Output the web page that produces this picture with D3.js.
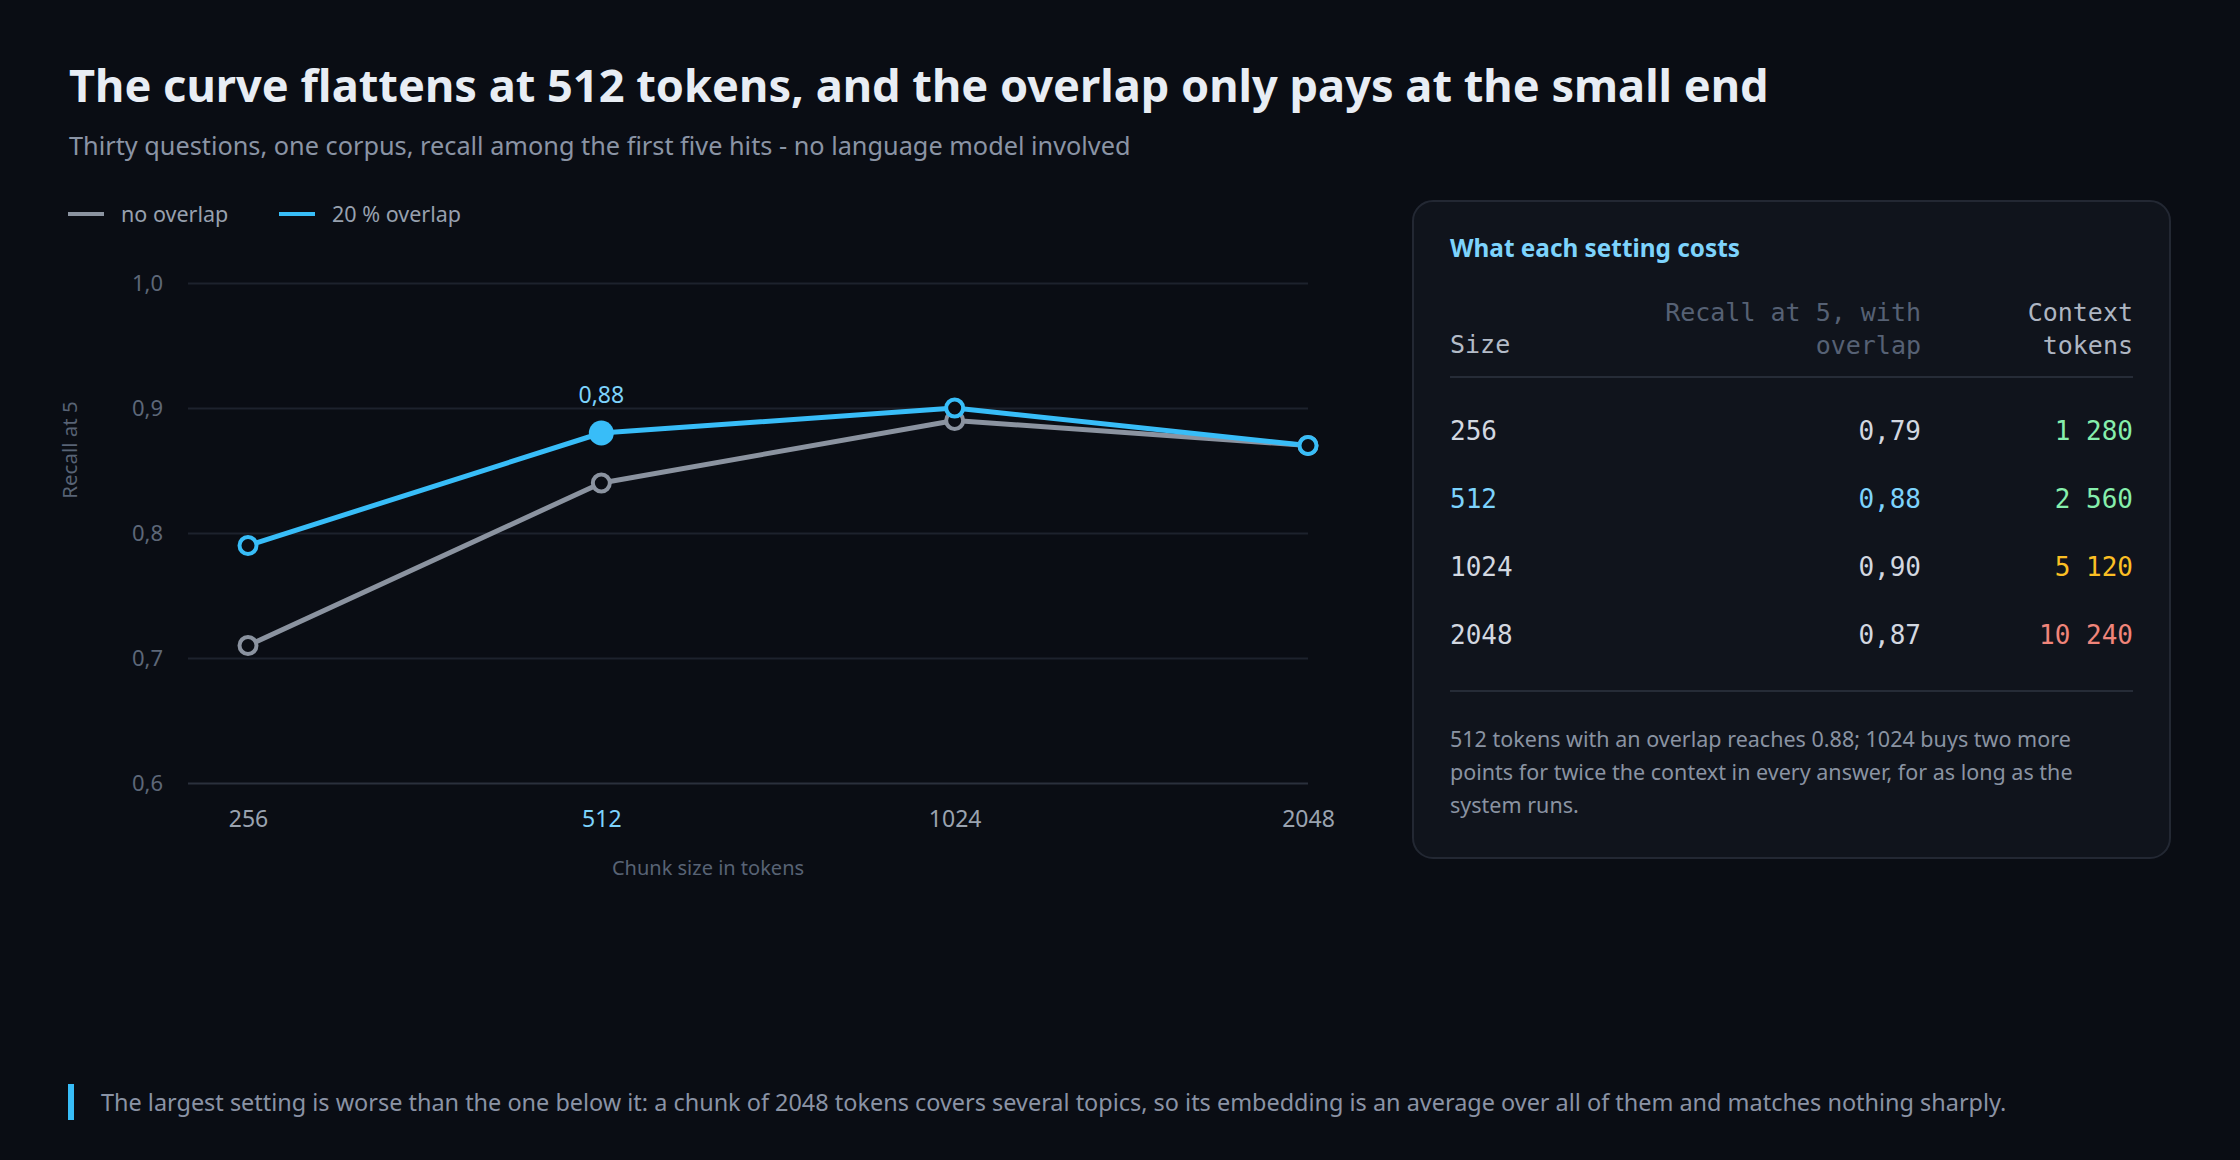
<!DOCTYPE html>
<html lang="en">
  <head>
    <meta charset="UTF-8" />
    <title>Chunk size and recall</title>
    <style>
      html,
      body {
        margin: 0;
        padding: 0;
        background: #0a0d14;
      }
      svg {
        display: block;
        font-family: "Noto Sans", sans-serif;
      }
      .mono {
        font-family: "DejaVu Sans Mono", monospace;
      }
    </style>
  </head>
  <body>
    <svg id="chart" width="2240" height="1160"></svg>
  </body>
  <script src="https://cdn.jsdelivr.net/npm/d3@7"></script>
  <script>
    // data
    const sizes = ["256", "512", "1024", "2048"];
    const noOverlap = [0.71, 0.84, 0.89, 0.87];
    const withOverlap = [0.79, 0.88, 0.9, 0.87];
    const contextTokens = [1280, 2560, 5120, 10240];
    const tokenColors = ["#86efac", "#86efac", "#fbbf24", "#f0857a"];
    const yTicks = [0.6, 0.7, 0.8, 0.9, 1.0];
    const highlight = "512";

    const noteLines = [
      "512 tokens with an overlap reaches 0.88; 1024 buys two more",
      "points for twice the context in every answer, for as long as the",
      "system runs.",
    ];

    const locale = d3.formatLocale({
      decimal: ",",
      thousands: " ",
      grouping: [3],
      currency: ["", ""],
    });
    const fmt1 = locale.format(".1f");
    const fmt2 = locale.format(".2f");
    const fmtInt = locale.format(",d");

    const bg = "#0a0d14";
    const blue = "#38bdf8";
    const grey = "#8b93a0";

    const svg = d3.select("#chart");
    svg.append("rect").attr("width", 2240).attr("height", 1160).attr("fill", bg);

    // shrink/grow a text's font size until it spans the given width
    function fitText(sel, width) {
      const w = sel.node().getComputedTextLength();
      const fs = parseFloat(sel.attr("font-size"));
      sel.attr("font-size", (fs * width) / w);
      return sel;
    }

    // headings
    fitText(
      svg
        .append("text")
        .attr("x", 69)
        .attr("y", 102)
        .attr("font-size", 44)
        .attr("font-weight", 700)
        .attr("fill", "#e8edf4")
        .text("The curve flattens at 512 tokens, and the overlap only pays at the small end"),
      1700
    );
    fitText(
      svg
        .append("text")
        .attr("x", 69)
        .attr("y", 155)
        .attr("font-size", 25)
        .attr("fill", "#8a94a5")
        .text("Thirty questions, one corpus, recall among the first five hits - no language model involved"),
      1062
    );

    // legend
    const legend = [
      { label: "no overlap", color: grey, x: 68 },
      { label: "20 % overlap", color: blue, x: 279 },
    ];
    const lg = svg.selectAll(".legend").data(legend).join("g").attr("class", "legend");
    lg.append("line")
      .attr("x1", (d) => d.x)
      .attr("x2", (d) => d.x + 36)
      .attr("y1", 214)
      .attr("y2", 214)
      .attr("stroke", (d) => d.color)
      .attr("stroke-width", 4);
    lg.append("text")
      .attr("x", (d) => d.x + 53)
      .attr("y", 222)
      .attr("font-size", 21.5)
      .attr("fill", "#97a0ae")
      .text((d) => d.label);

    // scales
    const x = d3.scalePoint().domain(sizes).range([248, 1308]);
    const y = d3.scaleLinear().domain([0.6, 1.0]).range([783, 283]);
    const plotLeft = 188,
      plotRight = 1308;

    const yAxis = svg
      .append("g")
      .attr("transform", `translate(${plotLeft},0)`)
      .call(
        d3
          .axisLeft(y)
          .tickValues(yTicks)
          .tickFormat(fmt1)
          .tickSize(-(plotRight - plotLeft))
          .tickPadding(25)
      );
    yAxis.select(".domain").remove();
    yAxis
      .selectAll(".tick line")
      .attr("stroke", (d) => (d === 0.6 ? "#2a303c" : "#1d222d"))
      .attr("stroke-width", 2);
    yAxis
      .selectAll(".tick text")
      .attr("font-family", "Noto Sans")
      .attr("font-size", 22)
      .attr("fill", "#5d6778");

    const xAxis = svg
      .append("g")
      .attr("transform", `translate(0,${y(0.6)})`)
      .call(d3.axisBottom(x).tickSize(0).tickPadding(28));
    xAxis.select(".domain").remove();
    xAxis
      .selectAll(".tick text")
      .attr("font-family", "Noto Sans")
      .attr("font-size", 23)
      .attr("fill", (d) => (d === highlight ? "#7dd3fc" : "#9aa3b0"));

    svg
      .append("text")
      .attr("x", 708)
      .attr("y", 875)
      .attr("text-anchor", "middle")
      .attr("font-size", 20)
      .attr("fill", "#586375")
      .text("Chunk size in tokens");
    svg
      .append("text")
      .attr("transform", "translate(77,450) rotate(-90)")
      .attr("text-anchor", "middle")
      .attr("font-size", 20.5)
      .attr("fill", "#586375")
      .text("Recall at 5");

    // lines and markers
    const series = [
      { name: "no overlap", values: noOverlap, color: grey },
      { name: "20 % overlap", values: withOverlap, color: blue },
    ];
    const line = d3
      .line()
      .x((d, i) => x(sizes[i]))
      .y((d) => y(d));

    series.forEach((s) => {
      svg
        .append("path")
        .datum(s.values)
        .attr("d", line)
        .attr("fill", "none")
        .attr("stroke", s.color)
        .attr("stroke-width", 5)
        .attr("stroke-linejoin", "round");
    });
    series.forEach((s) => {
      const hl = s.values === withOverlap;
      svg
        .append("g")
        .selectAll("circle")
        .data(s.values)
        .join("circle")
        .attr("cx", (d, i) => x(sizes[i]))
        .attr("cy", (d) => y(d))
        .attr("r", (d, i) => (hl && sizes[i] === highlight ? 12.5 : 8.5))
        .attr("fill", (d, i) => (hl && sizes[i] === highlight ? blue : bg))
        .attr("stroke", s.color)
        .attr("stroke-width", (d, i) => (hl && sizes[i] === highlight ? 0 : 4));
    });

    const hi = sizes.indexOf(highlight);
    svg
      .append("text")
      .attr("x", x(highlight))
      .attr("y", y(withOverlap[hi]) - 30)
      .attr("text-anchor", "middle")
      .attr("font-size", 23)
      .attr("fill", "#7dd3fc")
      .text(fmt2(withOverlap[hi]));

    // side panel
    const panel = svg.append("g");
    panel
      .append("rect")
      .attr("x", 1413)
      .attr("y", 201)
      .attr("width", 757)
      .attr("height", 657)
      .attr("rx", 20)
      .attr("fill", "#10141c")
      .attr("stroke", "#232833")
      .attr("stroke-width", 2);

    fitText(
      panel
        .append("text")
        .attr("x", 1450)
        .attr("y", 257)
        .attr("font-size", 24)
        .attr("font-weight", 700)
        .attr("fill", "#7dd3fc")
        .text("What each setting costs"),
      290
    );

    const colSize = 1450,
      colRecall = 1921,
      colTokens = 2133;

    const head = panel.append("g").attr("class", "mono").attr("font-size", 25);
    head.append("text").attr("x", colSize).attr("y", 353).attr("fill", "#b4bcc8").text("Size");
    head
      .append("text")
      .attr("x", colRecall)
      .attr("text-anchor", "end")
      .attr("fill", "#566174")
      .selectAll("tspan")
      .data(["Recall at 5, with", "overlap"])
      .join("tspan")
      .attr("x", colRecall)
      .attr("y", (d, i) => 321 + i * 33)
      .text((d) => d);
    head
      .append("text")
      .attr("x", colTokens)
      .attr("text-anchor", "end")
      .attr("fill", "#aeb6c2")
      .selectAll("tspan")
      .data(["Context", "tokens"])
      .join("tspan")
      .attr("x", colTokens)
      .attr("y", (d, i) => 321 + i * 33)
      .text((d) => d);

    panel
      .selectAll(".rule")
      .data([377, 691])
      .join("line")
      .attr("x1", colSize)
      .attr("x2", colTokens)
      .attr("y1", (d) => d)
      .attr("y2", (d) => d)
      .attr("stroke", "#262c37")
      .attr("stroke-width", 2);

    const rowY = d3.scalePoint().domain(sizes).range([440, 644]);
    const rows = panel
      .selectAll(".row")
      .data(sizes)
      .join("g")
      .attr("class", "row mono")
      .attr("font-size", 26)
      .attr("transform", (d) => `translate(0,${rowY(d)})`);
    rows
      .append("text")
      .attr("x", colSize)
      .attr("fill", (d) => (d === highlight ? "#7dd3fc" : "#d3d8e0"))
      .text((d) => d);
    rows
      .append("text")
      .attr("x", colRecall)
      .attr("text-anchor", "end")
      .attr("fill", (d) => (d === highlight ? "#7dd3fc" : "#d3d8e0"))
      .text((d, i) => fmt2(withOverlap[i]));
    rows
      .append("text")
      .attr("x", colTokens)
      .attr("text-anchor", "end")
      .attr("fill", (d, i) => tokenColors[i])
      .text((d, i) => fmtInt(contextTokens[i]));

    const note = panel
      .append("text")
      .attr("font-size", 21)
      .attr("fill", "#8a93a2");
    note
      .selectAll("tspan")
      .data(noteLines)
      .join("tspan")
      .attr("x", 1450)
      .attr("y", (d, i) => 747 + i * 33)
      .text((d) => d);
    // size the note from its first line
    const firstLine = note.select("tspan").node().getComputedTextLength();
    note.attr("font-size", (21 * 621) / firstLine);

    // footnote
    svg
      .append("rect")
      .attr("x", 68)
      .attr("y", 1084)
      .attr("width", 6)
      .attr("height", 36)
      .attr("fill", blue);
    fitText(
      svg
        .append("text")
        .attr("x", 101)
        .attr("y", 1111)
        .attr("font-size", 25)
        .attr("fill", "#8a93a5")
        .text(
          "The largest setting is worse than the one below it: a chunk of 2048 tokens covers several topics, so its embedding is an average over all of them and matches nothing sharply."
        ),
      1906
    );
  </script>
</html>
